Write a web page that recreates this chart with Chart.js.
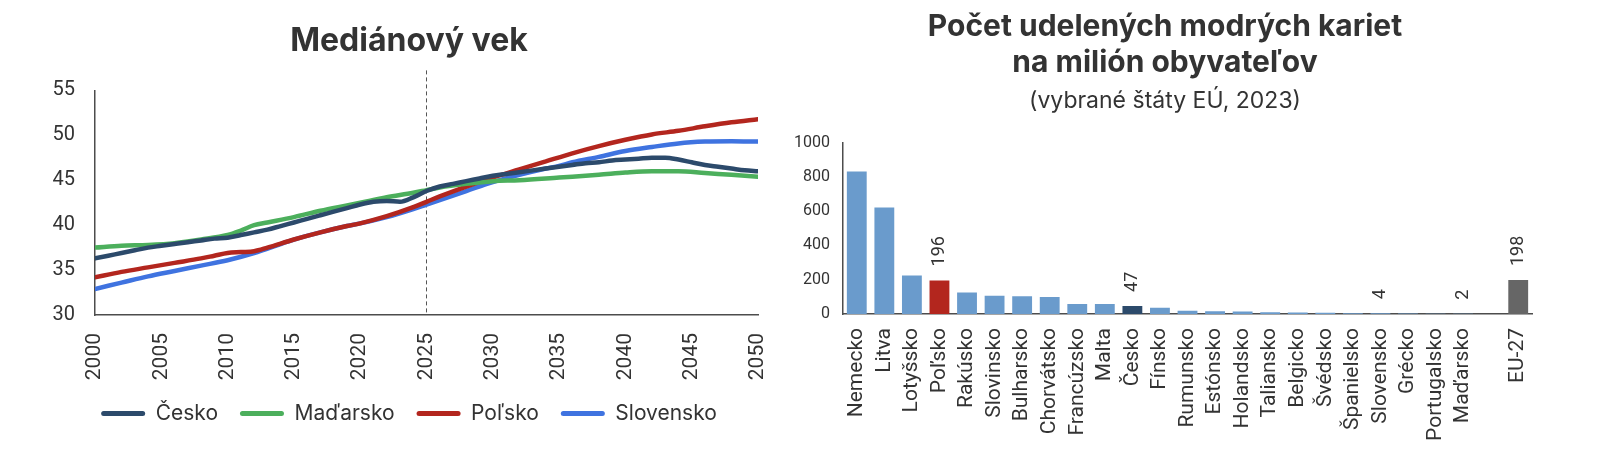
<!DOCTYPE html>
<html><head><meta charset="utf-8">
<script src="https://cdn.jsdelivr.net/npm/chart.js@4.4.1/dist/chart.umd.min.js"></script>
<style>
html,body{margin:0;padding:0;background:#fff;width:1600px;height:466px;overflow:hidden}
#c1wrap{position:absolute;left:0;top:0;width:818px;height:466px}
#c2wrap{position:absolute;left:770px;top:0;width:790px;height:466px}
</style></head><body>
<div id="c1wrap"><canvas id="c1"></canvas></div>
<div id="c2wrap"><canvas id="c2"></canvas></div>
<script>
// ---- Left chart data: median age ----
const FORECAST_YEAR = 2025;
const ceskoYears = [2000,2001,2002,2003,2004,2005,2006,2007,2008,2009,2010,2011,2012,2013,2014,2015,2016,2017,2018,2019,2020,2021,2022,2023,2024,2025,2026,2027,2028,2029,2030,2031,2032,2033,2034,2035,2036,2037,2038,2039,2040,2041,2042,2043,2044,2045,2046,2047,2048,2049,2050];
const ceskoValues = [36.3,36.6,36.9,37.2,37.5,37.7,37.9,38.1,38.3,38.5,38.6,38.9,39.2,39.5,39.9,40.3,40.7,41.1,41.5,41.9,42.3,42.6,42.7,42.6,43.1,43.8,44.3,44.6,44.9,45.2,45.5,45.7,45.9,46.1,46.3,46.5,46.7,46.9,47.0,47.2,47.3,47.4,47.5,47.5,47.3,47.0,46.7,46.5,46.3,46.1,46.0];
const madarskoYears = [2000,2002,2004,2006,2008,2010,2011,2012,2013,2015,2017,2019,2020,2022,2024,2025,2026,2028,2030,2032,2035,2038,2040,2042,2044,2046,2048,2050];
const madarskoValues = [37.5,37.7,37.8,38.0,38.4,38.9,39.4,40.0,40.3,40.9,41.6,42.2,42.5,43.1,43.6,43.9,44.2,44.6,44.9,45.0,45.3,45.6,45.85,46.0,46.0,45.8,45.6,45.4];
const polskoYears = [2000,2002,2004,2006,2008,2009,2010,2011,2012,2013,2015,2017,2019,2020,2022,2024,2025,2026,2028,2030,2032,2034,2036,2038,2040,2042,2044,2046,2048,2050];
const polskoValues = [34.2,34.8,35.3,35.8,36.3,36.6,36.9,37.0,37.1,37.5,38.4,39.2,39.9,40.2,41.0,42.0,42.6,43.2,44.3,45.3,46.2,47.1,48.0,48.8,49.5,50.1,50.5,51.0,51.45,51.8];
const slovenskoYears = [2000,2002,2004,2006,2008,2010,2012,2014,2015,2017,2019,2020,2022,2024,2025,2026,2028,2030,2032,2034,2035,2036,2038,2040,2042,2044,2046,2048,2050];
const slovenskoValues = [32.9,33.6,34.3,34.9,35.5,36.1,36.9,37.9,38.4,39.2,39.9,40.2,40.9,41.8,42.3,42.8,43.8,44.8,45.6,46.3,46.6,47.0,47.6,48.25,48.7,49.1,49.3,49.35,49.3];
const seriesNames = ['Česko','Maďarsko','Poľsko','Slovensko'];

// ---- Right chart data: blue cards per million ----
const countries = ['Nemecko','Litva','Lotyšsko','Poľsko','Rakúsko','Slovinsko','Bulharsko','Chorvátsko','Francúzsko','Malta','Česko','Fínsko','Rumunsko','Estónsko','Holandsko','Taliansko','Belgicko','Švédsko','Španielsko','Slovensko','Grécko','Portugalsko','Maďarsko','','EU-27'];
const cardValues = [832,621,225,196,126,107,103,99,59,58,47,36,19,16,15,10,9,7,5,4,3,2,2,null,198];
const labelledCountries = ['Poľsko','Česko','Slovensko','Maďarsko','EU-27'];

const FONT = 'Inter, "Noto Sans", sans-serif';
const TICKFONT = 'Roboto, "Liberation Sans", sans-serif';
const TXT = '#333333';
const AXIS = '#4d4d4d';
const lineColors = ['#2c4a6b','#4caf5c','#b3261e','#3f73e0'];

const pts = (xs, ys) => xs.map((x,i)=>({x:x,y:ys[i]}));

const vline = {
  id:'vline',
  beforeDatasetsDraw(c){
    const x = c.scales.x.getPixelForValue(FORECAST_YEAR);
    const ctx = c.ctx;
    ctx.save();
    ctx.strokeStyle = '#555';
    ctx.lineWidth = 1;
    ctx.setLineDash([4,3]);
    ctx.beginPath();
    ctx.moveTo(x, c.chartArea.top - 20);
    ctx.lineTo(x, c.chartArea.bottom);
    ctx.stroke();
    ctx.restore();
  }
};

new Chart(document.getElementById('c1'), {
  type:'line',
  data:{
    datasets:[
      {label:seriesNames[0], data:pts(ceskoYears,ceskoValues), borderColor:lineColors[0], backgroundColor:lineColors[0]},
      {label:seriesNames[1], data:pts(madarskoYears,madarskoValues), borderColor:lineColors[1], backgroundColor:lineColors[1]},
      {label:seriesNames[2], data:pts(polskoYears,polskoValues), borderColor:lineColors[2], backgroundColor:lineColors[2]},
      {label:seriesNames[3], data:pts(slovenskoYears,slovenskoValues), borderColor:lineColors[3], backgroundColor:lineColors[3]}
    ]
  },
  options:{
    responsive:true, maintainAspectRatio:false, animation:false,
    layout:{padding:{left:0,right:0,top:22,bottom:32}},
    elements:{point:{radius:0},line:{borderWidth:4.5,tension:0.4,cubicInterpolationMode:'monotone',borderCapStyle:'round',borderJoinStyle:'round'}},
    plugins:{
      title:{display:true,text:'Mediánový vek',color:TXT,font:{family:FONT,size:32,weight:'bold'},padding:{top:0,bottom:30}},
      legend:{position:'bottom',labels:{
        boxWidth:44,boxHeight:5,useBorderRadius:true,borderRadius:2.5,padding:22,color:TXT,font:{family:FONT,size:21},
        generateLabels:(chart)=>Chart.defaults.plugins.legend.labels.generateLabels(chart).map(l=>Object.assign(l,{lineWidth:0,fillStyle:l.strokeStyle}))
      }},
      tooltip:{enabled:false}
    },
    scales:{
      x:{type:'linear',min:2000,max:2050,grid:{display:false,drawTicks:false},border:{color:AXIS,width:1.5},
         ticks:{stepSize:5,minRotation:90,maxRotation:90,color:TXT,font:{family:TICKFONT,size:21},padding:18,callback:v=>String(v)},
         afterFit:s=>{s.height=66;}},
      y:{min:30,max:55,grid:{display:false,drawTicks:false},border:{color:AXIS,width:1.5},
         ticks:{stepSize:5,color:TXT,font:{family:TICKFONT,size:20},padding:20},
         afterFit:s=>{s.width=95;}},
      yr:{position:'right',display:true,grid:{display:false,drawTicks:false},border:{display:false},ticks:{display:false},
         afterFit:s=>{s.width=60;}}
    }
  },
  plugins:[vline]
});

const barColors = countries.map(c => c==='Poľsko' ? '#b3261e' : c==='Česko' ? '#2c4a6b' : c==='EU-27' ? '#666666' : '#6a9bcc');

const barLabels = {
  id:'barLabels',
  afterDatasetsDraw(c){
    const ctx = c.ctx;
    const meta = c.getDatasetMeta(0);
    ctx.save();
    ctx.fillStyle = TXT;
    ctx.font = '18px ' + TICKFONT;
    ctx.textAlign = 'left';
    ctx.textBaseline = 'middle';
    countries.forEach((name,i)=>{
      if (!labelledCountries.includes(name)) return;
      const el = meta.data[i];
      ctx.save();
      ctx.translate(el.x, el.y - 14);
      ctx.rotate(-Math.PI/2);
      ctx.fillText(String(cardValues[i]), 0, 0);
      ctx.restore();
    });
    ctx.restore();
  }
};

new Chart(document.getElementById('c2'), {
  type:'bar',
  data:{labels:countries, datasets:[{data:cardValues, backgroundColor:barColors, barPercentage:0.72, categoryPercentage:1}]},
  options:{
    responsive:true, maintainAspectRatio:false, animation:false,
    layout:{padding:{left:0,right:0,top:9,bottom:20}},
    plugins:{
      title:{display:true,text:['Počet udelených modrých kariet','na milión obyvateľov'],color:TXT,font:{family:FONT,size:30,weight:'bold',lineHeight:1.2},padding:{top:0,bottom:6}},
      subtitle:{display:true,text:'(vybrané štáty EÚ, 2023)',color:TXT,font:{family:FONT,size:23},padding:{top:0,bottom:28}},
      legend:{display:false},
      tooltip:{enabled:false}
    },
    scales:{
      x:{grid:{display:false,drawTicks:false},border:{color:AXIS,width:1.5},
         ticks:{autoSkip:false,minRotation:90,maxRotation:90,color:TXT,font:{family:TICKFONT,size:21},padding:14},
         afterFit:s=>{s.height=132;}},
      y:{min:0,max:1000,grid:{display:false,drawTicks:false},border:{color:AXIS,width:1.5},
         ticks:{stepSize:200,color:TXT,font:{family:TICKFONT,size:16},padding:13,callback:v=>String(v)},
         afterFit:s=>{s.width=73;}},
      yr:{position:'right',display:true,grid:{display:false,drawTicks:false},border:{display:false},ticks:{display:false},
         afterFit:s=>{s.width=28;}}
    }
  },
  plugins:[barLabels]
});
</script>
</body></html>
